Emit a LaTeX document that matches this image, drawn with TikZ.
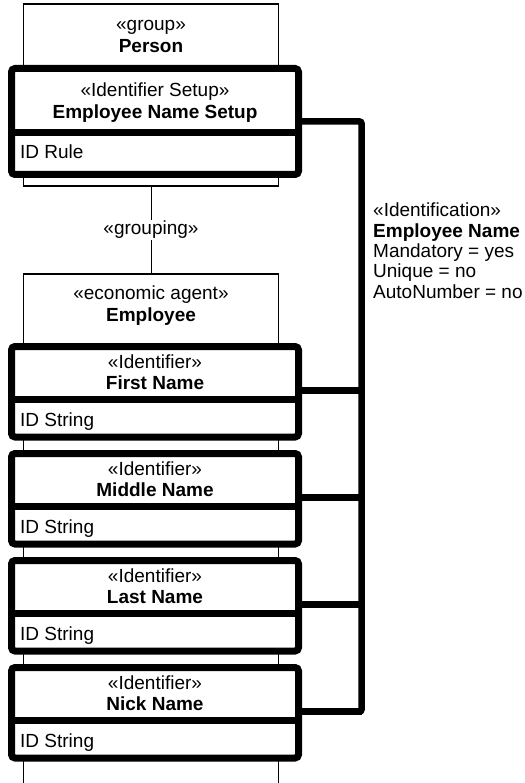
\documentclass[tikz,border=0pt]{standalone}
\usepackage{fontspec}
\setmainfont{Liberation Sans}
\usetikzlibrary{positioning}

\tikzset{
  groupbox/.style={draw, line width=1.3pt, minimum width=255pt, inner sep=0pt, outer sep=0pt, anchor=north west},
  idbox/.style={draw, line width=7pt, rounded corners=3.5pt, fill=white, minimum width=287pt, inner sep=0pt, outer sep=0pt, anchor=north west},
  link/.style={line width=6.5pt},
  txt/.style={inner sep=0pt, anchor=base},
  attr/.style={inner sep=0pt, anchor=base west}
}

\begin{document}
\begin{tikzpicture}[x=1pt, y=-1pt, font=\fontsize{19}{20.3}\selectfont]

\useasboundingbox (0,0) rectangle (524,783);

\def \step {107}   % distance between the identifier boxes
\def \linky {47.5} % height of the connector below a box top

% groups
\node[groupbox, minimum height=182pt] (person) at (23.5,4) {};
\node[groupbox, minimum height=540pt] (employee) at (23.5,274) {};
\node[txt] (person-st) at (151,31) {«group»};
\node[txt] (person-nm) at (151,53) {\textbf{Person}};
\node[txt] (employee-st) at (151,299) {«economic agent»};
\node[txt] (employee-nm) at (151,321) {\textbf{Employee}};
\draw[line width=1pt] (person) -- node[fill=white, inner sep=1pt] (grouping) {«grouping»} (employee);

% identifier setup
\node[idbox, minimum height=106pt] (setup) at (11.5,68.5) {};
\draw[line width=7pt] (setup.west |- 0,132.5) -- (setup.east |- 0,132.5);
\node[txt] (setup-st) at (155,97) {«Identifier Setup»};
\node[txt] (setup-nm) at (155,119) {\textbf{Employee Name Setup}};
\node[attr] (setup-at) at (20,159) {ID Rule};
\coordinate (setup-j) at (361.5,121.5);

% identifiers
\foreach \i/\id/\nm in {0/first/First Name, 1/middle/Middle Name, 2/last/Last Name, 3/nick/Nick Name}
{
  \pgfmathsetmacro{\ytop}{343 + \step*\i}
  \node[idbox, minimum height=90.5pt] (\id) at (11.5,\ytop+3.5) {};
  \draw[line width=7pt] (\id.west |- 0,\ytop+56.5) -- (\id.east |- 0,\ytop+56.5);
  \node[txt] (\id-st) at (155,\ytop+25) {«Identifier»};
  \node[txt] (\id-nm) at (155,\ytop+46) {\textbf{\nm}};
  \node[attr] (\id-at) at (20,\ytop+83) {ID String};
  \coordinate (\id-j) at (361.5,\ytop+\linky);
  \draw[link] (\id.east |- \id-j) -- (\id-j);
}

% identification
\draw[link, rounded corners=2pt] (setup.east |- setup-j) -- (setup-j) -- (nick-j) -- (nick.east |- nick-j);
\node[anchor=north west, align=left, inner sep=0pt] (ident) at (373,203)
  {«Identification»\\\textbf{Employee Name}\\Mandatory = yes\\Unique = no\\AutoNumber = no};

\end{tikzpicture}
\end{document}
